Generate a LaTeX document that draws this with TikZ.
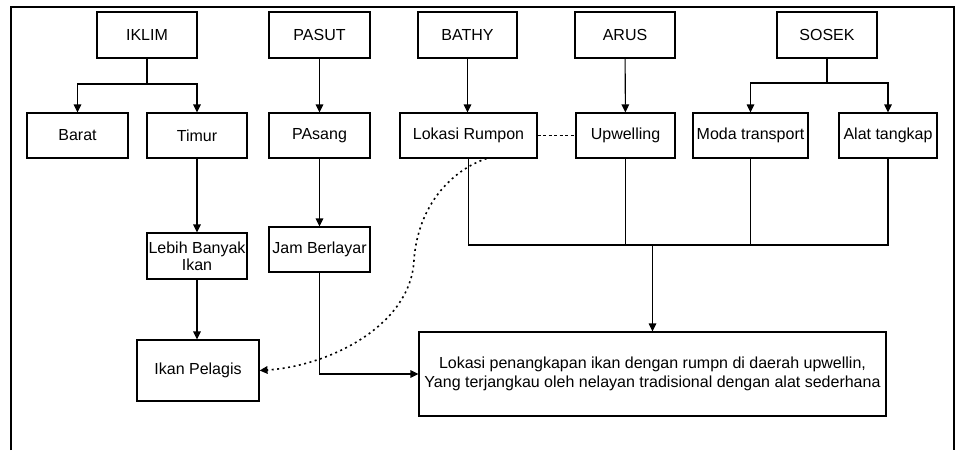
\documentclass[tikz,border=0pt]{standalone}
\usepackage{fontspec}
\setmainfont{Liberation Sans}
\usetikzlibrary{arrows.meta}
\begin{document}
\begin{tikzpicture}[x=1pt,y=-1pt,
  box/.style={draw,line width=1.1pt,inner sep=1pt,align=center,font=\fontsize{16}{17}\selectfont,minimum height=45pt},
  ln/.style={line width=1.1pt},
  arr/.style={ln,-{Triangle[length=8pt,width=7.5pt]}}]
\useasboundingbox (0,0) rectangle (961,450);
\draw[line width=1.2pt] (11,450) -- (11,7) -- (954,7) -- (954,450);
% top row
\node[box,minimum width=100pt,minimum height=46pt] (iklim) at (147,35) {IKLIM};
\node[box,minimum width=101pt,minimum height=46pt] (pasut) at (319.5,35) {PASUT};
\node[box,minimum width=99pt,minimum height=46pt] (bathy) at (467.5,35) {BATHY};
\node[box,minimum width=100pt,minimum height=46pt] (arus) at (625,35) {ARUS};
\node[box,minimum width=100pt,minimum height=46pt] (sosek) at (827,35) {SOSEK};
% second row
\node[box,minimum width=101pt] (barat) at (77.5,135.5) {Barat};
\node[box,minimum width=100pt] (timur) at (197,135.5) {Timur};
\node[box,minimum width=101pt] (pasang) at (319.5,135.5) {PAsang};
\node[box,minimum width=137pt] (lokasi) at (468.5,135.5) {Lokasi Rumpon};
\node[box,minimum width=99pt] (upw) at (625.5,135.5) {Upwelling};
\node[box,minimum width=115pt] (moda) at (750.5,135.5) {Moda transport};
\node[box,minimum width=98pt] (alat) at (888,135.5) {Alat tangkap};
% lower
\node[box,minimum width=100pt,minimum height=46pt] (lebih) at (197,256) {Lebih Banyak\\Ikan};
\node[box,minimum width=101pt] (jam) at (319.5,249.5) {Jam Berlayar};
\node[box,minimum width=122pt,minimum height=61pt] (pelagis) at (198,370.5) {Ikan Pelagis};
\node[box,minimum width=467pt,minimum height=84pt,font=\fontsize{16}{18.5}\selectfont] (big) at (652.5,374) {Lokasi penangkapan ikan dengan rumpn di daerah upwellin,\\Yang terjangkau oleh nelayan tradisional dengan alat sederhana};
% connectors
\coordinate (ikj) at (147,84);
\draw[ln] (iklim.south) -- (ikj);
\draw[arr] (ikj) -| (barat.north);
\draw[arr] (ikj) -| (timur.north);
\coordinate (soj) at (827,83);
\draw[ln] (sosek.south) -- (soj);
\draw[arr] (soj) -| (moda.north);
\draw[arr] (soj) -| (alat.north);
\draw[arr] (pasut) -- (pasang);
\draw[arr] (bathy.south) -- (bathy.south |- lokasi.north);
\draw[arr] (arus) -- (upw);
\draw[arr] (timur) -- (lebih);
\draw[arr] (lebih.south) -- (lebih.south |- pelagis.north);
\draw[arr] (pasang) -- (jam);
\draw[arr] (jam.south) |- (big.west);
\coordinate (mj) at (652.5,245);
\draw[ln] (lokasi.south) -- (lokasi.south |- mj) -- (alat.south |- mj) -- (alat.south);
\draw[ln] (upw.south) -- (upw.south |- mj);
\draw[ln] (moda.south) -- (moda.south |- mj);
\draw[arr] (mj) -- (big.north);
\draw[ln,line width=1pt,dash pattern=on 3pt off 2.5pt] (lokasi.east) -- (upw.west);
\draw[line width=1.6pt,dash pattern=on 2pt off 3.5pt,-{Triangle[length=8pt,width=7.5pt]}] ([xshift=18pt]lokasi.south) .. controls (452,170) and (418,205) .. (414,260) .. controls (411,325) and (330,366) .. (pelagis.east);
\end{tikzpicture}
\end{document}
